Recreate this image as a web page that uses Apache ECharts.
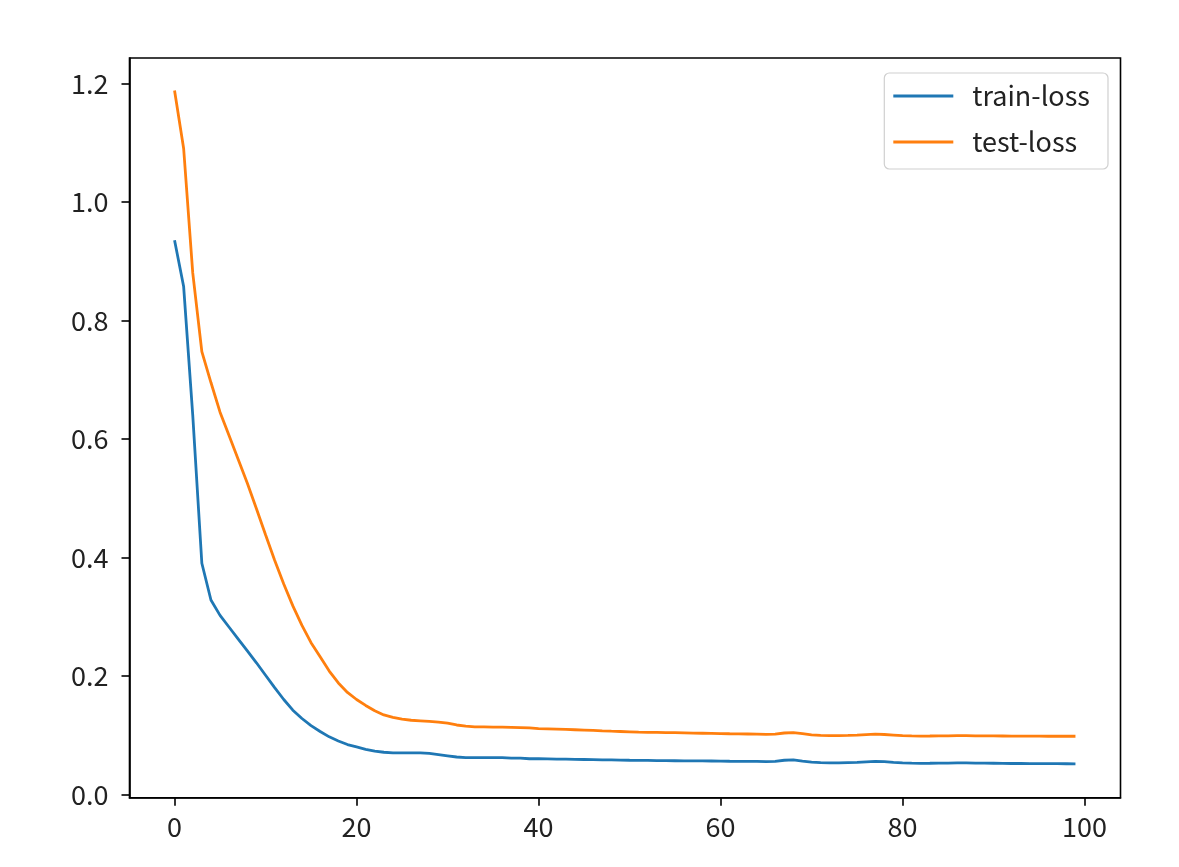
<!DOCTYPE html>
<html>
<head>
<meta charset="utf-8">
<script src="https://cdn.jsdelivr.net/npm/echarts@6/dist/echarts.min.js"></script>
<style>
html,body{margin:0;padding:0;background:#fff;}
#chart{width:1179px;height:867px;}
</style>
</head>
<body>
<div id="chart"></div>
<script>
const seriesNames = ['train-loss', 'test-loss'];
const xTicks = [0, 20, 40, 60, 80, 100];
const yTicks = [0.0, 0.2, 0.4, 0.6, 0.8, 1.0, 1.2];
const trainLoss = [
  0.935, 0.857, 0.64, 0.39, 0.328, 0.302, 0.282, 0.262, 0.242, 0.222,
  0.201, 0.180, 0.160, 0.142, 0.128, 0.116, 0.106, 0.097, 0.090, 0.084,
  0.080, 0.076, 0.073, 0.071, 0.070, 0.070, 0.070, 0.070, 0.069, 0.067,
  0.065, 0.063, 0.062, 0.062, 0.062, 0.062, 0.062, 0.061, 0.061, 0.060,
  0.060, 0.0598, 0.0595, 0.0593, 0.059, 0.0588, 0.0585, 0.0582, 0.058, 0.0578,
  0.0575, 0.0573, 0.0572, 0.057, 0.0568, 0.0567, 0.0566, 0.0565, 0.0563, 0.0562,
  0.056, 0.0558, 0.0557, 0.0556, 0.0555, 0.0553, 0.0555, 0.0575, 0.058, 0.056,
  0.0545, 0.0535, 0.053, 0.053, 0.0535, 0.054, 0.0548, 0.0555, 0.0552, 0.054,
  0.053, 0.0525, 0.0523, 0.0524, 0.0526, 0.0528, 0.053, 0.053, 0.0528, 0.0526,
  0.0524, 0.0522, 0.052, 0.052, 0.0519, 0.0518, 0.0518, 0.0517, 0.0516, 0.0515
];
const testLoss = [
  1.188, 1.09, 0.88, 0.747, 0.695, 0.645, 0.605, 0.565, 0.525, 0.482,
  0.438, 0.395, 0.355, 0.318, 0.285, 0.256, 0.232, 0.208, 0.188, 0.172,
  0.160, 0.150, 0.141, 0.134, 0.130, 0.127, 0.125, 0.124, 0.123, 0.122,
  0.120, 0.117, 0.115, 0.114, 0.1138, 0.1135, 0.1133, 0.113, 0.1125, 0.112,
  0.111, 0.1105, 0.110, 0.1095, 0.109, 0.1085, 0.108, 0.1072, 0.1065, 0.106,
  0.1055, 0.105, 0.1047, 0.1045, 0.1042, 0.104, 0.1037, 0.1034, 0.1031, 0.1028,
  0.1025, 0.1022, 0.102, 0.1018, 0.1015, 0.1012, 0.1015, 0.1035, 0.104, 0.1025,
  0.1005, 0.0995, 0.099, 0.0992, 0.0995, 0.100, 0.1008, 0.1015, 0.101, 0.100,
  0.099, 0.0985, 0.0983, 0.0984, 0.0986, 0.0988, 0.099, 0.099, 0.0988, 0.0986,
  0.0985, 0.0984, 0.0983, 0.0982, 0.0982, 0.0981, 0.098, 0.098, 0.098, 0.098
];

const FONT = '"Noto Sans CJK SC", "DejaVu Sans", sans-serif';
const pairs = arr => arr.map((v, i) => [i, v]);

const chart = echarts.init(document.getElementById('chart'), null, {renderer: 'canvas'});
chart.setOption({
  animation: false,
  backgroundColor: '#fff',
  grid: {
    left: 129.5, right: 58.5, top: 58, bottom: 69.3,
    show: true, borderColor: '#000', borderWidth: 1.6, backgroundColor: 'transparent'
  },
  legend: {
    data: seriesNames.map(n => ({name: n, icon: 'rect'})),
    orient: 'vertical',
    right: 71, top: 73,
    itemWidth: 60, itemHeight: 3,
    itemGap: 16,
    padding: [8, 18, 12, 9],
    borderColor: '#d0d0d0', borderWidth: 1.2, borderRadius: 5,
    backgroundColor: '#fff',
    textStyle: {fontFamily: FONT, fontSize: 27, color: '#222', lineHeight: 30, padding: [0, 0, 0, 14]}
  },
  xAxis: {
    type: 'value',
    min: -4.95, max: 103.95,
    splitLine: {show: false},
    axisLine: {show: true, onZero: false, lineStyle: {color: '#000', width: 1.6}},
    axisTick: {show: true, length: 8, customValues: xTicks, lineStyle: {color: '#000', width: 1.6}},
    axisLabel: {customValues: xTicks, margin: 16, fontFamily: FONT, fontSize: 27, color: '#222'}
  },
  yAxis: {
    type: 'value',
    min: -0.0057, max: 1.2427,
    splitLine: {show: false},
    axisLine: {show: true, onZero: false, lineStyle: {color: '#000', width: 1.6}},
    axisTick: {show: true, length: 8, customValues: yTicks, lineStyle: {color: '#000', width: 1.6}},
    axisLabel: {customValues: yTicks, margin: 21, fontFamily: FONT, fontSize: 27, color: '#222',
      formatter: v => v.toFixed(1)}
  },
  series: [
    {name: seriesNames[0], type: 'line', data: pairs(trainLoss), showSymbol: false, symbol: 'none',
     lineStyle: {color: '#1f77b4', width: 2.8}, itemStyle: {color: '#1f77b4'}},
    {name: seriesNames[1], type: 'line', data: pairs(testLoss), showSymbol: false, symbol: 'none',
     lineStyle: {color: '#ff7f0e', width: 2.8}, itemStyle: {color: '#ff7f0e'}}
  ]
});
</script>
</body>
</html>
